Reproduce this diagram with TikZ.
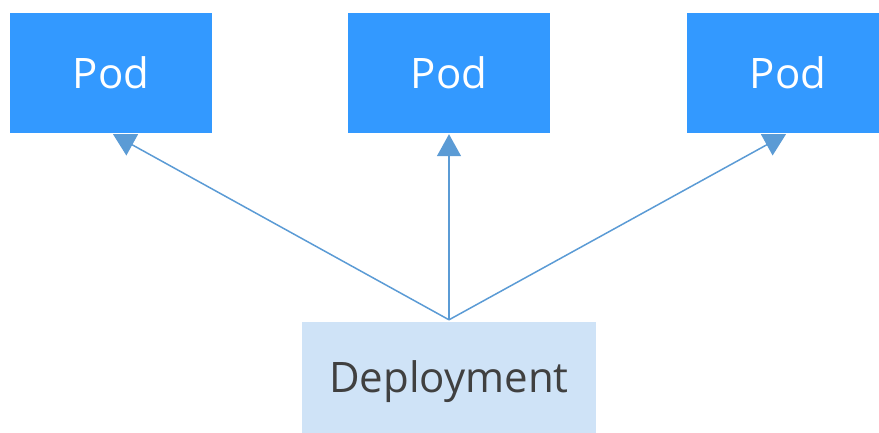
\documentclass[tikz,border=0pt]{standalone}
\usepackage{fontspec}
\setmainfont{Open Sans}
\usetikzlibrary{arrows.meta,backgrounds}
\definecolor{podblue}{RGB}{51,153,255}
\definecolor{depfill}{RGB}{207,227,247}
\definecolor{linkblue}{RGB}{91,155,213}
\definecolor{deptext}{RGB}{64,64,64}
\tikzset{
  podbox/.style={fill=podblue, draw=none, minimum width=202pt, minimum height=120pt,
    inner sep=0pt, text=white, font=\fontsize{42}{50}\selectfont},
  depbox/.style={fill=depfill, draw=none, minimum width=294pt, minimum height=120pt,
    inner sep=0pt, text=deptext, font=\fontsize{42}{50}\selectfont},
  link/.style={draw=linkblue, line width=1.5pt, -{Triangle[width=24pt,length=22pt]}}
}
\begin{document}
\begin{tikzpicture}[x=1pt,y=-1pt]
  \useasboundingbox (0,0) rectangle (879,432);
  \node[podbox] (podL) at (111,73) {Pod};
  \node[podbox] (podM) at (449,73) {Pod};
  \node[podbox] (podR) at (788,73) {Pod};
  \node[depbox] (dep) at (449,382) {Deployment};
  \begin{pgfonlayer}{background}
    \draw[link] ([yshift=2pt]dep.north) -- ([xshift=2pt,yshift=-1pt]podL.south);
    \draw[link] ([yshift=2pt]dep.north) -- ([yshift=-1pt]podM.south);
    \draw[link] ([yshift=2pt]dep.north) -- ([xshift=-2pt,yshift=-1pt]podR.south);
  \end{pgfonlayer}
\end{tikzpicture}
\end{document}
